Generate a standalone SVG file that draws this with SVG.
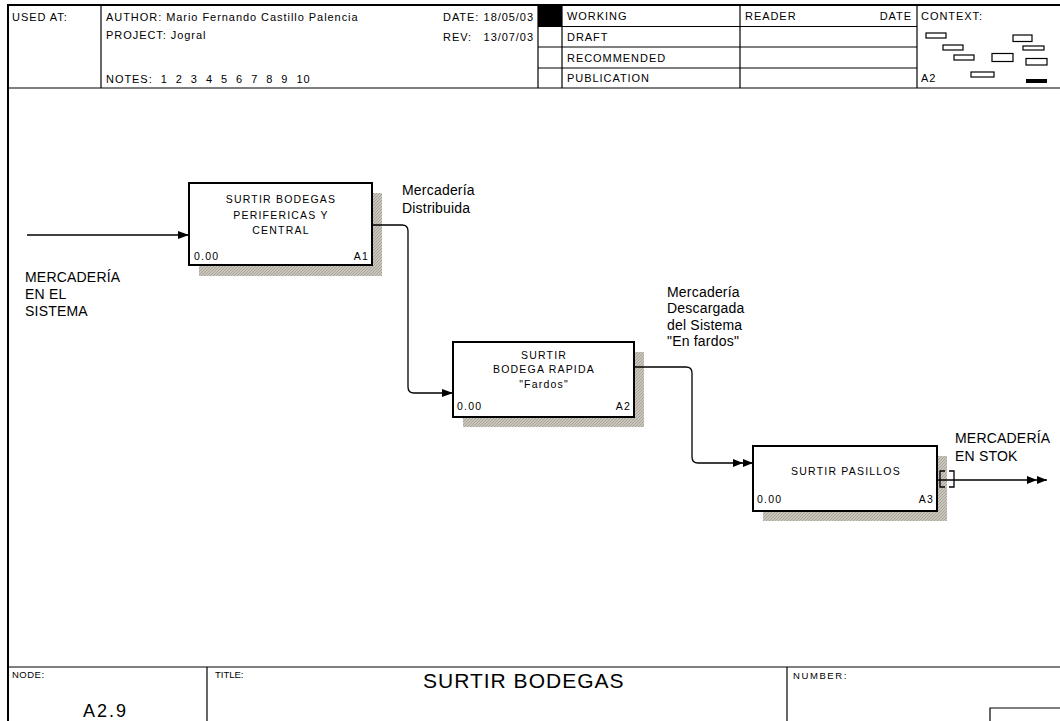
<svg xmlns="http://www.w3.org/2000/svg" width="1060" height="721" viewBox="0 0 1060 721">
<style>
text{font-family:"Liberation Sans",Arial,sans-serif;fill:#000}
.hd{font-size:11px;letter-spacing:0.95px}
.ft{font-size:9.5px;letter-spacing:0.5px}
.bx{font-size:10.5px;letter-spacing:1.2px}
.lb{font-size:14px;letter-spacing:0.2px}
.ln{stroke:#000;stroke-width:1.2;fill:none}
.frame{stroke:#000;stroke-width:2;fill:none}
.box{fill:#fff;stroke:#000;stroke-width:2}
.shadow{fill:url(#hatch)}
.ctx{fill:#fff;stroke:#000;stroke-width:1.2}
.conn{stroke:#000;stroke-width:1.3;fill:none}
</style>
<defs>
<pattern id="hatch" width="3" height="3" patternUnits="userSpaceOnUse">
<rect width="3" height="3" fill="#c9c5bc"/>
<path d="M0,3 L3,0" stroke="#a8a49a" stroke-width="1"/>
</pattern>
<marker id="arr" markerUnits="userSpaceOnUse" markerWidth="12" markerHeight="9" refX="11" refY="4" orient="auto">
<path d="M0,0 L11,4 L0,8 z" fill="#000"/>
</marker>
<marker id="arr2" markerUnits="userSpaceOnUse" markerWidth="21" markerHeight="9" refX="20" refY="4" orient="auto">
<path d="M0,0 L10,4 L0,8 z M10,0 L20,4 L10,8 z" fill="#000"/>
</marker>
</defs>
<rect width="1060" height="721" fill="#fff"/>

<g id="frame">
<line class="frame" x1="8" y1="5" x2="1060" y2="5"/>
<line class="frame" x1="8" y1="4" x2="8" y2="721"/>
<line class="ln" x1="8" y1="88" x2="1060" y2="88"/>
<line class="ln" x1="101" y1="5" x2="101" y2="88"/>
<line class="ln" x1="538" y1="5" x2="538" y2="88"/>
<line class="ln" x1="562" y1="5" x2="562" y2="88"/>
<line class="ln" x1="740" y1="5" x2="740" y2="88"/>
<line class="ln" x1="917" y1="5" x2="917" y2="88"/>
<line class="ln" x1="538" y1="26.5" x2="917" y2="26.5"/>
<line class="ln" x1="538" y1="47" x2="917" y2="47"/>
<line class="ln" x1="538" y1="68" x2="917" y2="68"/>
<rect x="538" y="5" width="24" height="21.5" fill="#000"/>
<text class="hd" x="12" y="20.5">USED AT:</text>
<text class="hd" x="106" y="20.5">AUTHOR:  Mario Fernando Castillo Palencia</text>
<text class="hd" x="106" y="39">PROJECT:  Jogral</text>
<text class="hd" x="106" y="82.5" xml:space="preserve">NOTES:  1  2  3  4  5  6  7  8  9  10</text>
<text class="hd" x="443" y="20.5">DATE:</text>
<text class="hd" x="534" y="20.5" text-anchor="end">18/05/03</text>
<text class="hd" x="443" y="40.5">REV:</text>
<text class="hd" x="534" y="40.5" text-anchor="end">13/07/03</text>
<text class="hd" x="567" y="20">WORKING</text>
<text class="hd" x="567" y="40.5">DRAFT</text>
<text class="hd" x="567" y="61.5">RECOMMENDED</text>
<text class="hd" x="567" y="82">PUBLICATION</text>
<text class="hd" x="745" y="20">READER</text>
<text class="hd" x="912" y="20" text-anchor="end">DATE</text>
<text class="hd" x="921" y="20">CONTEXT:</text>
<text class="hd" x="921" y="82">A2</text>
<rect class="ctx" x="926" y="33" width="20" height="5"/>
<rect class="ctx" x="943" y="45" width="20" height="5"/>
<rect class="ctx" x="954" y="55" width="20" height="5"/>
<rect class="ctx" x="971" y="72" width="23" height="5"/>
<rect class="ctx" x="992" y="53.5" width="21" height="8"/>
<rect class="ctx" x="1013" y="35" width="19" height="6.5"/>
<rect class="ctx" x="1023" y="46" width="21" height="4"/>
<rect class="ctx" x="1026" y="58.5" width="21" height="6.5"/>
<rect x="1026" y="79" width="21" height="4" fill="#000"/>

<line class="ln" x1="8" y1="667" x2="1060" y2="667"/>
<line class="ln" x1="207" y1="667" x2="207" y2="721"/>
<line class="ln" x1="787" y1="667" x2="787" y2="721"/>
<polyline class="ln" points="990,721 990,708 1060,708"/>
<text class="ft" x="12" y="678">NODE:</text>
<text x="83" y="717" style="font-size:18px;letter-spacing:2px">A2.9</text>
<text class="ft" x="215" y="678" style="letter-spacing:0px">TITLE:</text>
<text x="423" y="688" style="font-size:21px;letter-spacing:1px">SURTIR BODEGAS</text>
<text class="ft" x="793" y="679" style="letter-spacing:1.6px">NUMBER:</text>
</g>

<g id="node-A1">
<rect class="shadow" x="199" y="193" width="183" height="83"/>
<rect class="box" x="189" y="183" width="183" height="82"/>
<text class="bx" x="281" y="203" text-anchor="middle">SURTIR BODEGAS</text>
<text class="bx" x="281" y="219" text-anchor="middle">PERIFERICAS Y</text>
<text class="bx" x="281" y="234" text-anchor="middle">CENTRAL</text>
<text class="bx" x="194" y="260">0.00</text>
<text class="bx" x="369" y="260" text-anchor="end">A1</text>
</g>

<g id="node-A2">
<rect class="shadow" x="463" y="352" width="181" height="75"/>
<rect class="box" x="453" y="342" width="181" height="75"/>
<text class="bx" x="544" y="359" text-anchor="middle">SURTIR</text>
<text class="bx" x="544" y="373" text-anchor="middle">BODEGA RAPIDA</text>
<text class="bx" x="544" y="388" text-anchor="middle">"Fardos"</text>
<text class="bx" x="457" y="410">0.00</text>
<text class="bx" x="631" y="410" text-anchor="end">A2</text>
</g>

<g id="node-A3">
<rect class="shadow" x="763" y="456" width="184" height="65"/>
<rect class="box" x="753" y="446" width="184" height="65"/>
<text class="bx" x="846" y="475" text-anchor="middle">SURTIR PASILLOS</text>
<text class="bx" x="757" y="503">0.00</text>
<text class="bx" x="934" y="503" text-anchor="end">A3</text>
</g>

<g id="connectors">
<path class="conn" d="M27,235 H189" marker-end="url(#arr)"/>
<path class="conn" d="M372,225 H402 Q408,225 408,231 V387 Q408,393 414,393 H453" marker-end="url(#arr)"/>
<path class="conn" d="M634,367 H686 Q692,367 692,373 V457 Q692,463 698,463 H753" marker-end="url(#arr2)"/>
<path class="conn" d="M937,480 H1047" marker-end="url(#arr2)"/>
<path class="conn" d="M945,471 H940 V487 H945 M949,471 H954 V487 H949"/>
<text class="lb" x="25" y="282">MERCADERÍA</text>
<text class="lb" x="25" y="299">EN EL</text>
<text class="lb" x="25" y="316">SISTEMA</text>
<text class="lb" x="402" y="195">Mercadería</text>
<text class="lb" x="402" y="213">Distribuida</text>
<text class="lb" x="667" y="297">Mercadería</text>
<text class="lb" x="667" y="313">Descargada</text>
<text class="lb" x="667" y="330">del Sistema</text>
<text class="lb" x="667" y="346">"En fardos"</text>
<text class="lb" x="955" y="443">MERCADERÍA</text>
<text class="lb" x="955" y="461">EN STOK</text>
</g>
</svg>
